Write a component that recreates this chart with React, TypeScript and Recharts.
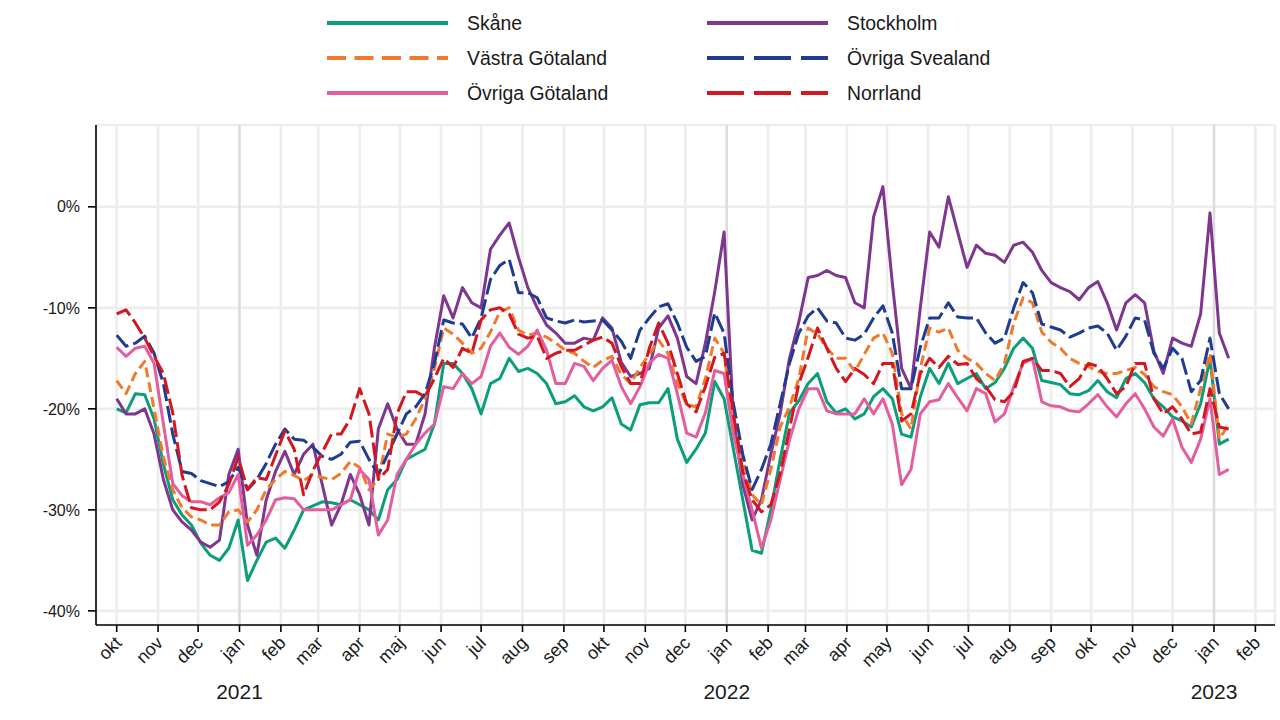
import React from "react";
import {
  LineChart,
  Line,
  XAxis,
  YAxis,
  CartesianGrid,
} from "recharts";

const FONT = "'Liberation Sans', Arial, Helvetica, sans-serif";
const DAY = 86400000;
const START = Date.UTC(2020, 9, 1);

// weekly observations, starting 2020-10-01 (one value per week)
const skane = [
  -20, -20.4, -18.5, -18.6, -21, -25.5, -29, -30.5, -31.5, -33.3,
  -34.5, -35, -33.8, -31, -37, -35, -33.2, -32.8, -33.8, -32,
  -30, -29.6, -29.2, -29.3, -29.5, -29, -29.5, -30, -31, -28,
  -27, -25, -24.5, -24, -21.5, -15.5, -15.5, -16.5, -18, -20.5,
  -17.5, -17, -15, -16.3, -16, -16.5, -17.5, -19.5, -19.3, -18.7,
  -19.8, -20.2, -19.8, -18.9, -21.5, -22.1, -19.6, -19.4, -19.4, -18,
  -23, -25.3, -24, -22.4, -17.3, -19, -24, -29, -34, -34.3,
  -30, -25, -20.4, -19.2, -17.5, -16.5, -19.3, -20.4, -20, -21,
  -20.5, -18.8, -18, -19, -22.5, -22.8, -18.8, -16, -17.5, -15.5,
  -17.5, -17, -16.5, -18, -17.4, -16, -14, -13, -14, -17.2,
  -17.4, -17.6, -18.5, -18.6, -18.2, -17.2, -18.3, -18.9, -17, -16.5,
  -17.4, -19, -19.8, -20.8, -21.2, -21.8, -19.5, -15, -23.5, -23,
];

const vastraGotaland = [
  -17.2, -18.5, -16.5, -15.3, -20, -24.8, -28, -29.8, -30.7, -31,
  -31.5, -31.5, -30.2, -30, -31.2, -30, -28, -27, -26.2, -26.6,
  -27.1, -26.5, -26.8, -27, -26.4, -25.2, -25.8, -28, -27, -22.5,
  -22.8, -22.5, -21, -19, -16, -12, -12.6, -13.5, -14.5, -14,
  -12.4, -10.4, -10, -12.2, -12.7, -12.5, -12.9, -13.5, -14.2, -14.5,
  -15.3, -15.9, -15.2, -14.8, -16.6, -17.5, -15.9, -14.6, -13.2, -14.5,
  -17.5, -19.6, -19.8, -17, -13, -14.5, -21.5, -25, -28.5, -29.5,
  -26, -21.8, -19.8, -17, -12, -12.6, -14, -15, -15, -16.3,
  -14.6, -13, -12.5, -14.5, -20.5, -22, -16, -12, -12.4, -12,
  -14.2, -15, -15.5, -16.5, -17.2, -15.5, -11.5, -9, -9.5, -12.4,
  -13.4, -14, -15, -15.5, -15.8, -16.3, -16.5, -16.5, -16.2, -15.9,
  -16.6, -17.8, -18.3, -18.6, -19.8, -21.5, -18, -14.5, -23, -21.5,
];

const ovrigaGotaland = [
  -13.9, -14.8, -14, -13.8, -15.5, -21.5, -27.4, -28.6, -29.2, -29.2,
  -29.5, -28.8, -28.3, -26.5, -33.5, -32.5, -31, -29, -28.8, -28.9,
  -30, -30, -30, -30, -29.5, -29, -26, -27, -32.5, -31,
  -26.5, -25, -23.5, -22.4, -21.5, -17.8, -18, -16.5, -17.5, -16.8,
  -13.8, -12.5, -13.9, -14.6, -13.8, -12.2, -14.2, -17.5, -17.5, -15.5,
  -15.8, -17.2, -16, -15.2, -17.8, -19.5, -17.8, -15.5, -14.6, -15,
  -18.5, -22.4, -22.8, -20.4, -16.2, -16.5, -22.5, -26.5, -30, -33.8,
  -31, -27, -23.1, -20, -18, -18, -20.2, -20.5, -20.5, -20.5,
  -19, -20.5, -19, -21.5, -27.5, -26, -20.5, -19.3, -19.1, -17.5,
  -18.9, -20.2, -18, -18.5, -21.3, -20.5, -17.8, -15.5, -15, -19.3,
  -19.7, -19.8, -20.2, -20.3, -19.5, -18.6, -19.8, -20.8, -19.5, -18.5,
  -20, -21.8, -22.7, -21, -23.8, -25.3, -23, -19, -26.5, -26,
];

const stockholm = [
  -19, -20.5, -20.5, -20, -22.5, -27, -30, -31.2, -32, -33.2,
  -33.7, -33, -26.5, -24, -31.5, -34.5, -29, -26.2, -24.2, -26.5,
  -24.5, -23.5, -27.5, -31.5, -29.5, -26.5, -28.5, -31.5, -22, -19.5,
  -22, -23.5, -23.5, -20.5, -14, -8.8, -11, -8, -9.5, -10,
  -4.2, -2.8, -1.6, -5, -8, -10, -11.7, -12.5, -13.5, -13.5,
  -13, -13.2, -11, -12, -15.4, -16.8, -16.5, -16, -12, -10.8,
  -13, -16.8, -17.5, -13.5, -8.4, -2.5, -21, -27.5, -31, -29,
  -24.5, -20.5, -15, -11.4, -7, -6.8, -6.3, -6.8, -7, -9.5,
  -10, -1, 2, -7.5, -16, -18, -10, -2.5, -4, 1,
  -2.5, -6, -3.8, -4.6, -4.8, -5.5, -3.8, -3.5, -4.5, -6.3,
  -7.5, -8, -8.4, -9.2, -8, -7.4, -9.5, -12.2, -9.5, -8.7,
  -9.5, -14.3, -16.5, -13, -13.5, -13.8, -10.6, -0.6, -12.5, -15,
];

const ovrigaSvealand = [
  -12.7, -13.8, -13.5, -12.8, -14.5, -17.5, -22.5, -26.2, -26.4, -27.1,
  -27.4, -27.7, -27.2, -25.8, -28, -27, -25.4, -23.5, -22, -23,
  -23.1, -23.8, -24.7, -25, -24.5, -23.3, -23.2, -25, -26.5, -24.5,
  -22.5, -20.5, -19.8, -18.5, -15.5, -11.2, -11.5, -11.6, -13, -11,
  -7.2, -5.8, -5.2, -8.5, -8.5, -9, -11, -11.3, -11.5, -11.2,
  -11.4, -11.3, -11.2, -12.2, -13.3, -15, -12.2, -11, -9.9, -9.6,
  -11.5, -13.9, -15.3, -14.8, -10.5, -12.5, -19.5, -24.5, -28, -26,
  -23.5, -19.5, -15.5, -12.5, -10.8, -10, -11.3, -11.5, -13, -13.2,
  -12.6, -11, -9.8, -12.5, -18, -18, -13.9, -11, -11, -9.5,
  -10.9, -11, -11, -12.5, -13.5, -13, -10, -7.5, -8.5, -11.6,
  -11.9, -12.2, -12.9, -12.5, -12, -11.8, -12.5, -14.2, -12.8, -11,
  -11.2, -14.5, -16, -14, -15, -18.3, -17.2, -13, -18.5, -20,
];

const norrland = [
  -10.6, -10.2, -11.5, -13, -14.8, -16.5, -20.4, -26.6, -29.8, -30,
  -30, -29.2, -27.5, -24.8, -28, -26.8, -27, -24.6, -22.2, -24,
  -28.5, -26.1, -24.3, -22.5, -22.5, -21, -18, -20.5, -27, -26,
  -20.5, -18.3, -18.3, -18.8, -17, -15, -15.9, -14, -14.5, -11.2,
  -10.2, -10, -10.6, -12.6, -13, -12.8, -15, -14.5, -14.2, -14.2,
  -13.7, -13.2, -12.9, -13.5, -15.8, -17.5, -17.5, -14, -11.5, -13.5,
  -16.5, -19.5, -20.3, -17.8, -14.9, -14.5, -20.5, -26.2, -29, -30.2,
  -29.5, -26.4, -22, -17.5, -14.9, -12, -14, -16, -17.3, -16,
  -16.6, -17.5, -15.5, -15.5, -21.2, -20.5, -16.5, -15, -15.9, -14.8,
  -15.6, -15.5, -17, -17.8, -19.1, -19.3, -18.3, -15.3, -15, -16.2,
  -16.2, -16.5, -17.8, -17, -15.5, -15.8, -17, -18.5, -17.8, -15.5,
  -15.5, -19, -20.5, -19.8, -21, -22.5, -22.3, -18, -21.8, -22,
];

const MONTH_LABELS = [
  "okt", "nov", "dec", "jan", "feb", "mar", "apr", "maj", "jun", "jul", "aug", "sep",
  "okt", "nov", "dec", "jan", "feb", "mar", "apr", "may", "jun", "jul", "aug", "sep",
  "okt", "nov", "dec", "jan", "feb",
];

const Y_TICKS = [-40, -30, -20, -10, 0];

const SERIES = [
  { key: "skane", label: "Skåne", color: "#0A9E7A", dash: undefined },
  { key: "stockholm", label: "Stockholm", color: "#7E368F", dash: undefined },
  { key: "vastraGotaland", label: "Västra Götaland", color: "#F07A2C", dash: "10 5" },
  { key: "ovrigaSvealand", label: "Övriga Svealand", color: "#1F3C91", dash: "17 5" },
  { key: "ovrigaGotaland", label: "Övriga Götaland", color: "#E25E9E", dash: undefined },
  { key: "norrland", label: "Norrland", color: "#D3171F", dash: "17 5" },
];

const VALUES: Record<string, number[]> = {
  skane,
  vastraGotaland,
  ovrigaGotaland,
  stockholm,
  ovrigaSvealand,
  norrland,
};

const monthTicks = MONTH_LABELS.map((_, k) => Date.UTC(2020, 9 + k, 1));

const rows = skane.map((_, i) => {
  const r: Record<string, number> = { t: Date.UTC(2020, 9, 1 + 7 * i) };
  for (const s of SERIES) r[s.key] = VALUES[s.key][i];
  return r;
});

function MonthTick(props: any) {
  const { x, y, payload, index } = props;
  const label = MONTH_LABELS[index] ?? "";
  const d = new Date(payload.value);
  const isJan = d.getUTCMonth() === 0;
  const ax = x + 6;
  const ay = y + 10;
  return (
    <g>
      <text
        x={ax}
        y={ay}
        textAnchor="end"
        transform={`rotate(-45 ${ax} ${ay})`}
        fontFamily={FONT}
        fontSize={18}
        fill="#1a1a1a"
      >
        {label}
      </text>
      {isJan && (
        <text
          x={x}
          y={699}
          textAnchor="middle"
          fontFamily={FONT}
          fontSize={21}
          fill="#1a1a1a"
        >
          {d.getUTCFullYear()}
        </text>
      )}
    </g>
  );
}

function gridV(p: any) {
  const t = monthTicks[p.index];
  const isJan = t !== undefined && new Date(t).getUTCMonth() === 0;
  return (
    <line
      key={`v-${p.index}`}
      x1={p.x1}
      y1={p.y1}
      x2={p.x2}
      y2={p.y2}
      stroke={isJan ? "#DCDCDC" : "#EDEDED"}
      strokeWidth={2.6}
    />
  );
}

function LegendBox() {
  const rowsY = [23, 58, 93];
  const cols = [
    { x1: 327, x2: 448, tx: 467, items: [SERIES[0], SERIES[2], SERIES[4]] },
    { x1: 707, x2: 828, tx: 847, items: [SERIES[1], SERIES[3], SERIES[5]] },
  ];
  const legendDash: Record<string, string | undefined> = {
    vastraGotaland: "19 8.5",
    ovrigaSvealand: "37 10",
    norrland: "37 10",
  };
  return (
    <svg
      width={1280}
      height={115}
      style={{ position: "absolute", left: 0, top: 0, pointerEvents: "none" }}
    >
      {cols.map((c) =>
        c.items.map((s, r) => (
          <g key={s.key}>
            <line
              x1={c.x1}
              x2={c.x2}
              y1={rowsY[r]}
              y2={rowsY[r]}
              stroke={s.color}
              strokeWidth={4}
              strokeDasharray={legendDash[s.key]}
            />
            <text
              x={c.tx}
              y={rowsY[r]}
              dominantBaseline="central"
              fontFamily={FONT}
              fontSize={19.4}
              fill="#1a1a1a"
            >
              {s.label}
            </text>
          </g>
        )),
      )}
    </svg>
  );
}

export default function App() {
  return (
    <div
      style={{
        position: "absolute",
        left: 0,
        top: 0,
        width: 1280,
        height: 720,
        background: "#ffffff",
      }}
    >
      <LineChart
        width={1280}
        height={720}
        data={rows}
        margin={{ top: 125, right: 5, bottom: 0, left: 0 }}
      >
        <CartesianGrid
          stroke="#EDEDED"
          strokeWidth={2.6}
          vertical={gridV}
        />
        <XAxis
          dataKey="t"
          type="number"
          domain={[START - 15.5 * DAY, START + 867.7 * DAY]}
          allowDataOverflow
          ticks={monthTicks}
          interval={0}
          height={95}
          tickSize={7}
          tickMargin={2}
          axisLine={{ stroke: "#000", strokeWidth: 1.6 }}
          tickLine={{ stroke: "#000", strokeWidth: 1.6 }}
          tick={<MonthTick />}
        />
        <YAxis
          type="number"
          domain={[-41.4, 8.1]}
          allowDataOverflow
          ticks={Y_TICKS}
          width={96}
          tickSize={8}
          tickMargin={8}
          axisLine={{ stroke: "#000", strokeWidth: 1.6 }}
          tickLine={{ stroke: "#000", strokeWidth: 1.6 }}
          tickFormatter={(v: number) => `${v}%`}
          tick={{ fontFamily: FONT, fontSize: 16, fill: "#1a1a1a" }}
        />
        {SERIES.map((s) => (
          <Line
            key={s.key}
            dataKey={s.key}
            type="linear"
            stroke={s.color}
            strokeWidth={3}
            strokeDasharray={s.dash}
            strokeLinejoin="round"
            dot={false}
            activeDot={false}
            isAnimationActive={false}
          />
        ))}
      </LineChart>
      <LegendBox />
    </div>
  );
}
